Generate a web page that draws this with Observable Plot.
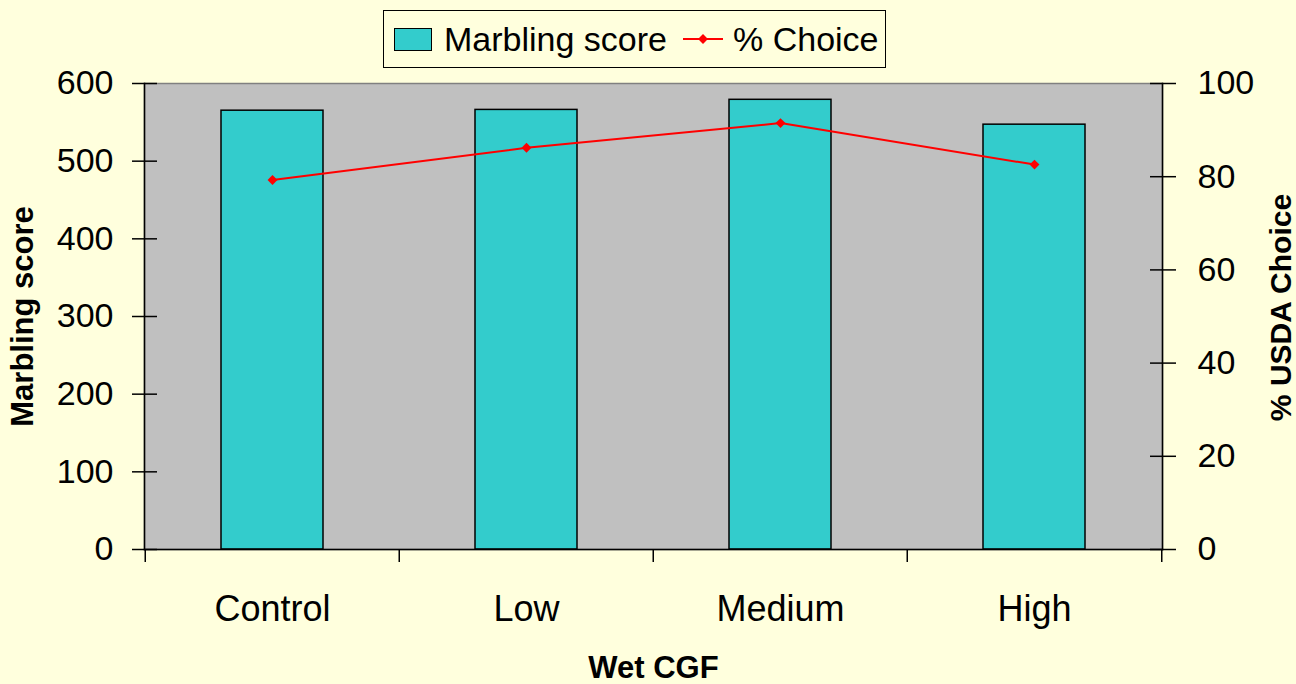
<!DOCTYPE html>
<html>
<head>
<meta charset="utf-8">
<script src="https://cdn.jsdelivr.net/npm/d3@7"></script>
<script src="https://cdn.jsdelivr.net/npm/@observablehq/plot@0.6"></script>
<style>
  html, body { margin: 0; padding: 0; background: #FFFFDD; }
  #wrap { position: relative; width: 1296px; height: 684px; font-family: "Liberation Sans", Arial, sans-serif; }
  #legend {
    position: absolute; left: 383px; top: 10px; width: 501px; height: 56px;
    border: 1.5px solid #000; background: #FFFFDD; box-sizing: content-box;
    font-size: 34px; color: #000;
  }
  #legend .item { position: absolute; top: 0; height: 56px; display: flex; align-items: center; }
  #legend .swatch { width: 36px; height: 21px; background: #33CCCC; border: 1.5px solid #000; margin-right: 12px; }
  #legend svg { margin-right: 10px; }
</style>
</head>
<body>
<div id="wrap">
  <div id="chart"></div>
  <div id="legend">
    <div class="item" style="left:10px"><div class="swatch"></div><span>Marbling score</span></div>
    <div class="item" style="left:299px">
      <svg width="40" height="14" viewBox="0 0 40 14">
        <line x1="0" y1="7" x2="40" y2="7" stroke="#FF0000" stroke-width="2"/>
        <rect x="16.5" y="3.5" width="7" height="7" fill="#FF0000" transform="rotate(45 20 7)"/>
      </svg>
      <span>% Choice</span>
    </div>
  </div>
</div>
<script>
// Wet corn gluten feed levels and carcass results
const categories = ["Control", "Low", "Medium", "High"];
const marblingScore = [565, 566, 579, 547];
const pctChoice = [79.3, 86.2, 91.5, 82.6];
const marblingTicks = [0, 100, 200, 300, 400, 500, 600];
const choiceTicks = [0, 20, 40, 60, 80, 100];

// the right axis (0–100 %) shares the left axis range (0–600)
const k = 600 / 100;

const rows = categories.map((c, i) => ({ group: c, marbling: marblingScore[i], choice: pctChoice[i] }));

const W = 1296, H = 684;
const mL = 144, mR = 134, mT = 83, mB = 135;
const half = (W - mL - mR) / categories.length / 2;

const chart = Plot.plot({
  width: W,
  height: H,
  marginLeft: mL,
  marginRight: mR,
  marginTop: mT,
  marginBottom: mB,
  style: { background: "transparent", fontFamily: "'Liberation Sans', Arial, sans-serif", color: "#000", overflow: "visible" },
  x: { type: "band", domain: categories, padding: 0 },
  y: { domain: [0, 600] },
  marks: [
    Plot.frame({ fill: "#C0C0C0", stroke: "#808080", strokeWidth: 1.5 }),
    Plot.barY(rows, { x: "group", y: "marbling", fill: "#33CCCC", stroke: "#000", strokeWidth: 1.5, insetLeft: 76, insetRight: 76 }),
    Plot.line(rows, { x: "group", y: d => d.choice * k, stroke: "#FF0000", strokeWidth: 2 }),
    Plot.dot(rows, { x: "group", y: d => d.choice * k, symbol: "square", r: 3.95, rotate: 45, fill: "#FF0000", stroke: null }),
    Plot.frame({ anchor: "left", stroke: "#000", strokeWidth: 1.5 }),
    Plot.frame({ anchor: "right", stroke: "#000", strokeWidth: 1.5 }),
    Plot.frame({ anchor: "bottom", stroke: "#000", strokeWidth: 1.5 }),
    // left axis: ticks cross the axis line
    Plot.axisY({ ticks: marblingTicks, tickSize: 25, dx: 13, tickPadding: 19, fontSize: 34, strokeWidth: 1.5, label: null }),
    // right axis in percent
    Plot.axisY({ anchor: "right", ticks: choiceTicks.map(v => v * k), tickFormat: v => Math.round(v / k), tickSize: 26, dx: -13, tickPadding: 22, fontSize: 34, strokeWidth: 1.5, label: null }),
    // category separators below the axis
    Plot.axisX({ ticks: categories, tickSize: 13, text: null, dx: -half, strokeWidth: 1.5, label: null }),
    Plot.axisX({ ticks: categories.slice(-1), tickSize: 13, text: null, dx: half, strokeWidth: 1.5, label: null }),
    Plot.axisX({ tickSize: 0, tickPadding: 46, fontSize: 36, label: null }),
    // axis titles
    Plot.text(["Marbling score"], { frameAnchor: "left", textAnchor: "middle", lineAnchor: "middle", dx: -121, rotate: -90, fontSize: 31, fontWeight: "bold", fill: "#000" }),
    Plot.text(["% USDA Choice"], { frameAnchor: "right", textAnchor: "middle", lineAnchor: "middle", dx: 119, dy: -9, rotate: -90, fontSize: 30, fontWeight: "bold", fill: "#000" }),
    Plot.text(["Wet CGF"], { frameAnchor: "bottom", dy: 128, fontSize: 31, fontWeight: "bold", fill: "#000" })
  ]
});

document.getElementById("chart").appendChild(chart);
</script>
</body>
</html>
